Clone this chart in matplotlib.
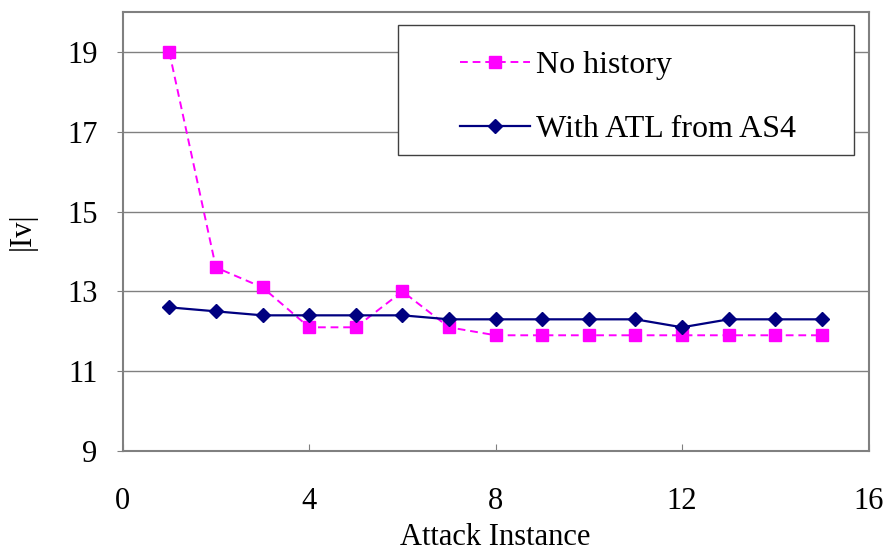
import matplotlib
matplotlib.use("Agg")
import matplotlib.pyplot as plt
from matplotlib.patches import Rectangle

# Attack instances and the size of |Iv| for each strategy
attack_instance = [1, 2, 3, 4, 5, 6, 7, 8, 9, 10, 11, 12, 13, 14, 15]
no_history = [19.0, 13.6, 13.1, 12.1, 12.1, 13.0, 12.1, 11.9, 11.9, 11.9, 11.9, 11.9, 11.9, 11.9, 11.9]
with_atl = [12.6, 12.5, 12.4, 12.4, 12.4, 12.4, 12.3, 12.3, 12.3, 12.3, 12.3, 12.1, 12.3, 12.3, 12.3]

x_ticks = [0, 4, 8, 12, 16]
y_ticks = [9, 11, 13, 15, 17, 19]

plt.rcParams["font.family"] = ["Liberation Serif", "DejaVu Serif"]

fig = plt.figure(figsize=(8.89, 5.54), dpi=100)
ax = fig.add_axes([0.138, 0.186, 0.839, 0.792])

grid_color = "#808080"
for y in y_ticks[1:]:
    ax.axhline(y, color=grid_color, lw=1.0, zorder=1)

ax.plot(attack_instance, no_history, color="#FF00FF", ls=(0, (4, 2.5)), lw=1.4,
        marker="s", ms=8.5, mfc="#FF00FF", mec="#FF00FF", zorder=3,
        label="No history")
ax.plot(attack_instance, with_atl, color="#000080", ls="-", lw=1.6,
        marker="D", ms=7, mfc="#000080", mec="#000080", zorder=4,
        label="With ATL from AS4")

ax.set_xlim(0, 16)
ax.set_ylim(9, 20)
ax.set_xticks(x_ticks)
ax.set_yticks(y_ticks)
ax.tick_params(axis="x", direction="in", length=5, color=grid_color,
               labelsize=22, pad=26)
ax.tick_params(axis="y", direction="out", length=4, color=grid_color,
               labelsize=22, pad=14)
for s in ax.spines.values():
    s.set_color(grid_color)
    s.set_linewidth(1.5)

ax.set_xlabel("Attack Instance", fontsize=22, labelpad=5)
ax.set_ylabel("|Iv|", fontsize=22, labelpad=22)

# Legend box
box = Rectangle((0.369, 0.674), 0.612, 0.296, transform=ax.transAxes,
                facecolor="white", edgecolor="#404040", lw=1.0, zorder=5)
ax.add_patch(box)
leg = ax.legend(loc="center left", bbox_to_anchor=(0.452, 0.806),
                frameon=False, fontsize=23, handlelength=2.2,
                handletextpad=0.2, labelspacing=1.1, borderpad=0,
                borderaxespad=0)
leg.set_zorder(6)

fig.savefig("out.png", dpi=100)
